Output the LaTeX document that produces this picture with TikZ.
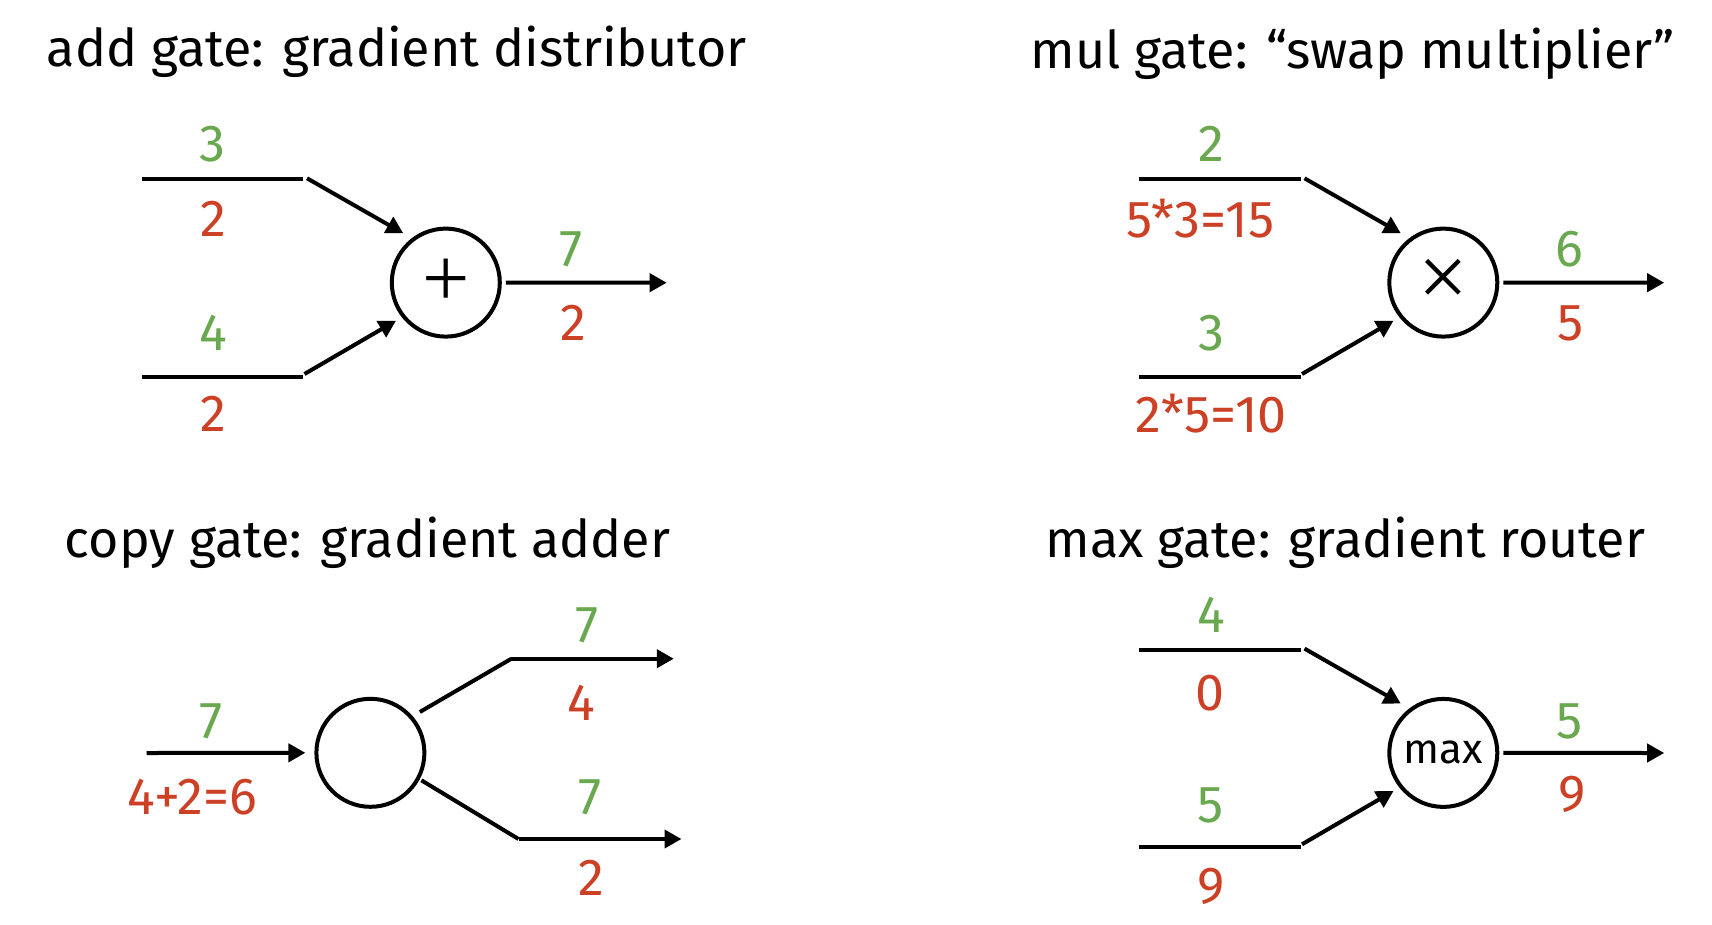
\documentclass[tikz,border=0pt]{standalone}
\usepackage{fontspec}
\setmainfont{Fira Sans}
\newfontfamily\opfont{Liberation Serif}
\usetikzlibrary{arrows.meta}
\definecolor{fgreen}{HTML}{6AA84F}
\definecolor{bred}{HTML}{CC4125}
\tikzset{
  wire/.style={line width=4pt},
  arr/.style={line width=4pt,-{Triangle[length=17pt,width=18pt]}},
  gate/.style={circle,draw,line width=4pt,minimum size=108pt,inner sep=0pt},
  title/.style={anchor=base west,inner sep=0pt,font=\fontsize{52}{52}\selectfont},
  fwd/.style={anchor=base,inner sep=0pt,text=fgreen,font=\fontsize{52}{52}\selectfont},
  bwd/.style={anchor=base,inner sep=0pt,text=bred,font=\fontsize{52}{52}\selectfont},
  opplus/.style={font=\opfont\fontsize{84}{84}\selectfont},
  optimes/.style={font=\opfont\fontsize{88}{88}\selectfont},
  opmax/.style={font=\fontsize{42}{42}\selectfont},
}
\begin{document}
\begin{tikzpicture}[x=1pt,y=-1pt]
\useasboundingbox (0,0) rectangle (1712,924);
% ---------- add gate ----------
\node[title] (t1) at (46.6,66.7) {add gate: gradient distributor};
\coordinate (a1s) at (141.6,179.3); \coordinate (a1e) at (303.4,179.3);
\coordinate (b1s) at (141.6,376.7); \coordinate (b1e) at (303.4,376.7);
\coordinate (a1d) at (307,178.3);   \coordinate (a1t) at (403.3,233.3);
\coordinate (b1d) at (304.5,374);   \coordinate (b1t) at (396,320.7);
\coordinate (o1) at (666.7,282.7);
\node[gate,opplus] (g1) at (445.8,282.6) {+};
\draw[wire] (a1s) -- (a1e);
\draw[wire] (b1s) -- (b1e);
\draw[arr] (a1d) -- (a1t);
\draw[arr] (b1d) -- (b1t);
\draw[arr,shorten <=4pt] (g1.east) -- (o1);
\node[fwd] (l1a) at (212.9,161.7) {3};
\node[bwd] (l1b) at (213,236.7) {2};
\node[fwd] (l1c) at (212.9,350) {4};
\node[bwd] (l1d) at (213,431.7) {2};
\node[fwd] (l1e) at (570.6,266.7) {7};
\node[bwd] (l1f) at (573.4,340) {2};
% ---------- mul gate ----------
\node[title] (t2) at (1030.5,68) {mul gate: “swap multiplier”};
\begin{scope}[shift={(997.5,0)}]
\coordinate (a2s) at (141.6,179.3); \coordinate (a2e) at (303.4,179.3);
\coordinate (b2s) at (141.6,376.7); \coordinate (b2e) at (303.4,376.7);
\coordinate (a2d) at (307,178.3);   \coordinate (a2t) at (403.3,233.3);
\coordinate (b2d) at (304.5,374);   \coordinate (b2t) at (396,320.7);
\coordinate (o2) at (666.7,282.7);
\node[gate,optimes] (g2) at (445.8,282.6) {×};
\draw[wire] (a2s) -- (a2e);
\draw[wire] (b2s) -- (b2e);
\draw[arr] (a2d) -- (a2t);
\draw[arr] (b2d) -- (b2t);
\draw[arr,shorten <=4pt] (g2.east) -- (o2);
\end{scope}
\node[fwd] (l2a) at (1211,161.7) {2};
\node[bwd] (l2b) at (1200.3,237) {5*3=15};
\node[fwd] (l2c) at (1211,350) {3};
\node[bwd] (l2d) at (1211.3,432) {2*5=10};
\node[fwd] (l2e) at (1569.3,266.7) {6};
\node[bwd] (l2f) at (1571,340.7) {5};
% ---------- copy gate ----------
\node[title] (t3) at (64.7,557.7) {copy gate: gradient adder};
\coordinate (i3) at (146.5,753);
\node[gate] (g3) at (370.4,752.8) {};
\coordinate (u3a) at (419.8,712);   \coordinate (u3b) at (511.4,658.7);
\coordinate (u3c) at (673.8,658.7);
\coordinate (d3a) at (421.4,780.3); \coordinate (d3b) at (518.5,839);
\coordinate (d3c) at (681.5,839);
\draw[arr,shorten >=9pt] (i3) -- (g3.west);
\draw[wire] (u3a) -- (u3b);
\draw[arr] (u3b) -- (u3c);
\draw[wire] (d3a) -- (d3b);
\draw[arr] (d3b) -- (d3c);
\node[fwd] (l3a) at (211.2,738) {7};
\node[bwd] (l3b) at (192,814.7) {4+2=6};
\node[fwd] (l3c) at (587.1,642.7) {7};
\node[bwd] (l3d) at (581.6,720.3) {4};
\node[fwd] (l3e) at (589.9,814.7) {7};
\node[bwd] (l3f) at (591,895.3) {2};
% ---------- max gate ----------
\node[title] (t4) at (1045.3,557.7) {max gate: gradient router};
\begin{scope}[shift={(997.5,470.3)}]
\coordinate (a4s) at (141.6,179.3); \coordinate (a4e) at (303.4,179.3);
\coordinate (b4s) at (141.6,376.7); \coordinate (b4e) at (303.4,376.7);
\coordinate (a4d) at (307,178.3);   \coordinate (a4t) at (403.3,233.3);
\coordinate (b4d) at (304.5,374);   \coordinate (b4t) at (396,320.7);
\coordinate (o4) at (666.7,282.7);
\node[gate,opmax] (g4) at (445.8,282.6) {max};
\draw[wire] (a4s) -- (a4e);
\draw[wire] (b4s) -- (b4e);
\draw[arr] (a4d) -- (a4t);
\draw[arr] (b4d) -- (b4t);
\draw[arr,shorten <=4pt] (g4.east) -- (o4);
\end{scope}
\node[fwd] (l4a) at (1211,632.7) {4};
\node[bwd] (l4b) at (1210,710.5) {0};
\node[fwd] (l4c) at (1211,822) {5};
\node[bwd] (l4d) at (1211.6,903) {9};
\node[fwd] (l4e) at (1569.3,738) {5};
\node[bwd] (l4f) at (1572,811.5) {9};
\end{tikzpicture}
\end{document}
